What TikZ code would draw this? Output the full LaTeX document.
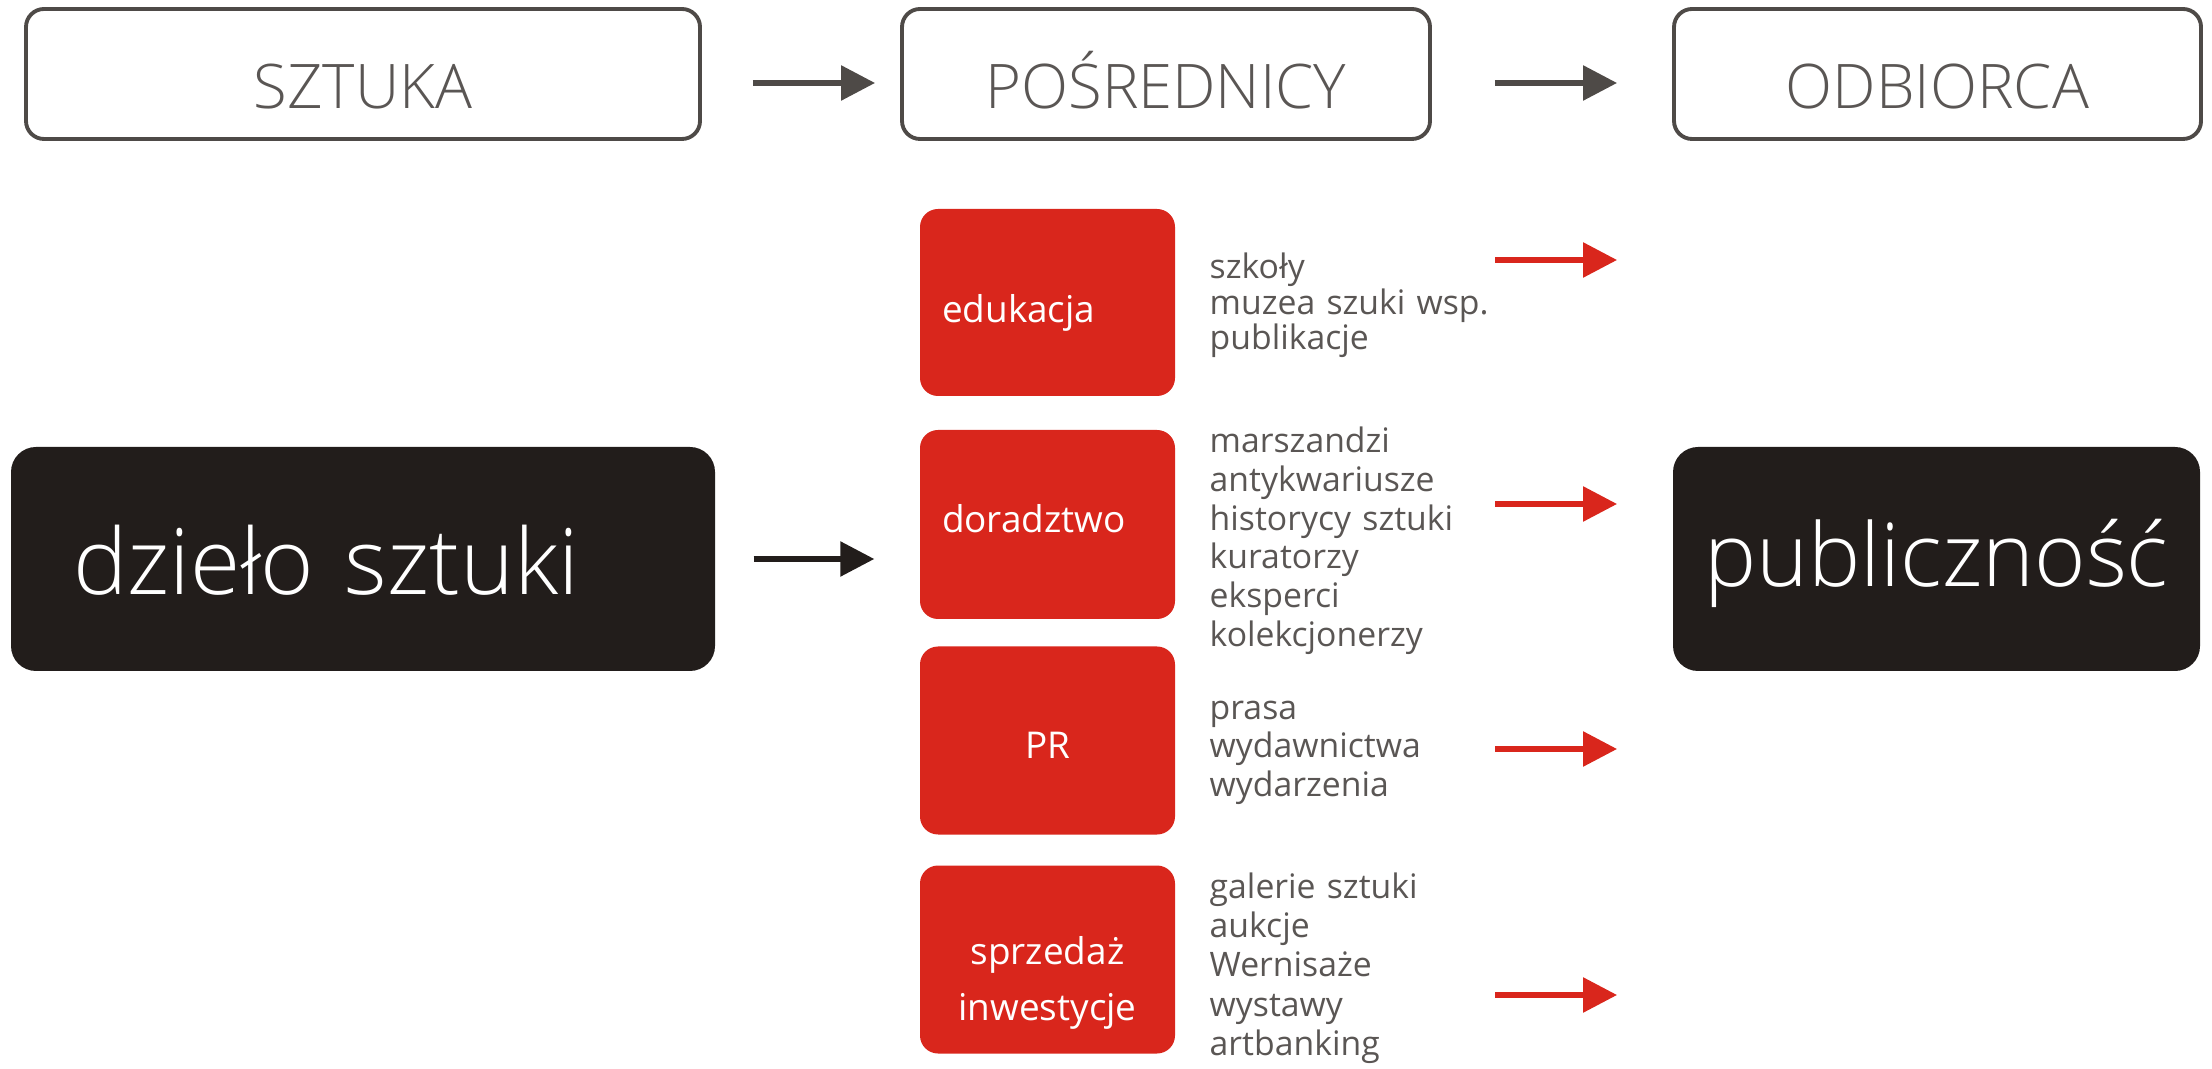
\documentclass[tikz,border=0pt]{standalone}
\usepackage{fontspec}
\setmainfont{Open Sans}
\newfontfamily\lightfont{Open Sans Light}
\usetikzlibrary{arrows.meta}
\definecolor{boxgray}{HTML}{4E4A47}
\definecolor{textgray}{HTML}{5A5654}
\definecolor{artred}{HTML}{D9261C}
\definecolor{artblack}{HTML}{221D1B}
\tikzset{
topbox/.style={rectangle, rounded corners=0.18cm, draw=boxgray, line width=1.1pt, text=textgray, font=\lightfont\fontsize{17.5}{20}\selectfont, minimum height=1.30cm, inner sep=0pt, text height=0.7cm, text depth=0pt},
blackbox/.style={rectangle, rounded corners=0.25cm, fill=artblack, text=white, font=\lightfont\fontsize{25}{28}\selectfont, minimum height=2.24cm, inner sep=0pt, text depth=0pt},
redbox/.style={rectangle, rounded corners=0.18cm, fill=artred, text=white, font=\fontsize{10.5}{16}\selectfont, minimum width=2.55cm, minimum height=1.88cm, inner xsep=0.22cm, inner ysep=0pt, text width=2.11cm, align=center, text depth=0pt},
listtext/.style={anchor=base west, inner sep=0pt, text=textgray, text width=4cm, align=left, font=\fontsize{9.6}{11}\selectfont},
grayarrow/.style={draw=boxgray, line width=1.6pt, -{Triangle[length=0.34cm,width=0.34cm]}},
blackarrow/.style={draw=artblack, line width=1.6pt, -{Triangle[length=0.34cm,width=0.34cm]}},
redarrow/.style={draw=artred, line width=1.6pt, -{Triangle[length=0.34cm,width=0.34cm]}}
}
\begin{document}
\begin{tikzpicture}
\useasboundingbox (0,0) rectangle (22.12,-10.69);
\node [topbox, minimum width=6.74cm] (sztuka) at (3.63,-0.74) {SZTUKA};
\node [topbox, minimum width=5.28cm] (posrednicy) at (11.66,-0.74) {POŚREDNICY};
\node [topbox, minimum width=5.27cm] (odbiorca) at (19.375,-0.74) {ODBIORCA};

\node [blackbox, font=\lightfont\fontsize{26}{28}\selectfont, minimum width=7.04cm, inner xsep=0.62cm, text width=5.8cm, align=left, text height=0.72cm] (dzielo) at (3.63,-5.59) {dzieło sztuki};
\node [blackbox, minimum width=5.27cm, text height=0.56cm] (publicznosc) at (19.365,-5.59) {publiczność};

\node [redbox, minimum height=1.87cm, align=left, text height=0.41cm] (edukacja) at (10.475,-3.025) {edukacja};
\node [redbox, minimum height=1.89cm, align=left, text height=0.16cm] (doradztwo) at (10.475,-5.245) {doradztwo};
\node [redbox, text height=0.37cm] (pr) at (10.475,-7.405) {PR};
\node [redbox, text height=0.69cm, text depth=0.6cm] (sprzedaz) at (10.475,-9.595) {sprzedaż\\inwestycje};

\node [listtext, font=\fontsize{9.6}{10}\selectfont] (edulist) at (12.09,-2.79) {szkoły\\muzea szuki wsp.\\publikacje};
\node [listtext] (dorlist) at (12.09,-4.53) {marszandzi\\antykwariusze\\historycy sztuki\\kuratorzy\\eksperci\\kolekcjonerzy};
\node [listtext] (prlist) at (12.09,-7.19) {prasa\\wydawnictwa\\wydarzenia};
\node [listtext, font=\fontsize{9.6}{11.2}\selectfont] (sprlist) at (12.09,-8.98) {galerie sztuki\\aukcje\\Wernisaże\\wystawy\\artbanking};

\coordinate (r1) at (14.95,-2.60);
\coordinate (r2) at (14.95,-5.04);
\coordinate (r3) at (14.95,-7.49);
\coordinate (r4) at (14.95,-9.95);

\draw [grayarrow, shorten <=0.51cm, shorten >=0.25cm] ([yshift=-0.09cm]sztuka.east) -- ([yshift=-0.09cm]posrednicy.west);
\draw [grayarrow, shorten <=0.63cm, shorten >=0.55cm] ([yshift=-0.09cm]posrednicy.east) -- ([yshift=-0.09cm]odbiorca.west);
\draw [blackarrow, shorten <=0.38cm, shorten >=0.45cm] (dzielo.east) -- (dzielo.east -| doradztwo.west);
\draw [redarrow, shorten >=0.55cm] (r1) -- (r1 -| odbiorca.west);
\draw [redarrow, shorten >=0.55cm] (r2) -- (r2 -| odbiorca.west);
\draw [redarrow, shorten >=0.55cm] (r3) -- (r3 -| odbiorca.west);
\draw [redarrow, shorten >=0.55cm] (r4) -- (r4 -| odbiorca.west);
\end{tikzpicture}
\end{document}
